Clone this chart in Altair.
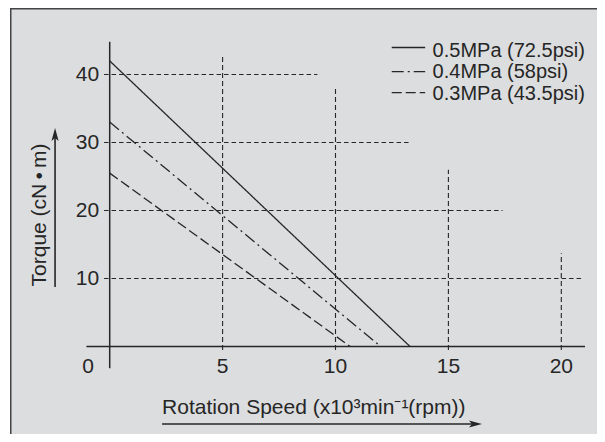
import altair as alt
import pandas as pd

# ---------------- data ----------------
series = ["0.5MPa (72.5psi)", "0.4MPa (58psi)", "0.3MPa (43.5psi)"]
stall_torque = [42.0, 33.0, 25.5]        # torque at 0 rpm (cN·m)
max_speed = [13.3, 12.0, 10.65]          # speed at 0 torque (x10^3 rpm)

x_ticks = [5, 10, 15, 20]
y_ticks = [10, 20, 30, 40]
origin_label = "0"
hgrid_end = [21.0, 17.4, 13.3, 9.2]      # right end of horizontal grid at each y tick
vgrid_top = [42.9, 38.1, 26.0, 13.7]     # top end of vertical grid at each x tick

x_title = "Rotation Speed (x10³min⁻¹(rpm))"
y_title = "Torque (cN\u2009•\u2009m)"

# ---------------- style / layout ----------------
INK = "#262626"
BG = "#dcdddf"
FONT = "Liberation Sans"
FS = 21
W, H = 587, 426
PX_X = 22.58     # px per x unit
PX_Y = 6.8       # px per y unit
X0_PX = 99.7     # view px of x = 0
Y0_PX = 338.5    # view px of y = 0

xs = alt.Scale(domain=[-X0_PX / PX_X, (W - X0_PX) / PX_X], nice=False, zero=False)
ys = alt.Scale(domain=[-(H - Y0_PX) / PX_Y, Y0_PX / PX_Y], nice=False, zero=False)


def X(f):
    return alt.X(f"{f}:Q", scale=xs, axis=None)


def Y(f):
    return alt.Y(f"{f}:Q", scale=ys, axis=None)


dash_scale = alt.Scale(domain=series, range=[[1, 0], [12, 4, 2, 4], [10, 4]])

# series lines
rows = []
for s, t, m in zip(series, stall_torque, max_speed):
    rows.append({"series": s, "x": 0.0, "y": t})
    rows.append({"series": s, "x": m, "y": 0.0})
lines_df = pd.DataFrame(rows)

lines = alt.Chart(lines_df).mark_line(color=INK, strokeWidth=1.3).encode(
    x=X("x"), y=Y("y"),
    strokeDash=alt.StrokeDash("series:N", scale=dash_scale, legend=None),
    detail="series:N",
)

# grid
hgrid_df = pd.DataFrame({"y": y_ticks, "x0": [-0.25] * 4, "x1": hgrid_end})
hgrid = alt.Chart(hgrid_df).mark_rule(color=INK, strokeWidth=1.1, strokeDash=[4.5, 3]).encode(
    x=X("x0"), x2="x1", y=Y("y"))

vgrid_df = pd.DataFrame({"x": x_ticks, "y0": [-0.5] * 4, "y1": vgrid_top})
vgrid = alt.Chart(vgrid_df).mark_rule(color=INK, strokeWidth=1.1, strokeDash=[5, 3]).encode(
    x=X("x"), y=Y("y0"), y2="y1")

# axis lines
axes_df = pd.DataFrame({"x0": [-1.03, 0.0], "x1": [21.05, 0.0],
                        "y0": [0.0, -3.2], "y1": [0.0, 44.8]})
axes = alt.Chart(axes_df).mark_rule(color=INK, strokeWidth=1.5).encode(
    x=X("x0"), x2="x1", y=Y("y0"), y2="y1")

# tick labels
xl_df = pd.DataFrame({"x": [-0.96] + x_ticks, "y": [-2.97] * 5,
                      "t": [origin_label] + [str(v) for v in x_ticks]})
xlabels = alt.Chart(xl_df).mark_text(font=FONT, fontSize=FS, color=INK, align="center",
                                     baseline="middle").encode(x=X("x"), y=Y("y"), text="t:N")

yl_df = pd.DataFrame({"x": [-0.47] * 4, "y": y_ticks, "t": [str(v) for v in y_ticks]})
ylabels = alt.Chart(yl_df).mark_text(font=FONT, fontSize=FS, color=INK, align="right",
                                     baseline="middle").encode(x=X("x"), y=Y("y"), text="t:N")

# legend
leg_df = pd.DataFrame({"series": series, "x0": [12.49] * 3, "x1": [13.97] * 3,
                       "ly": [43.97, 40.41, 37.32], "tx": [14.30] * 3,
                       "ty": [43.45, 40.32, 37.20]})
leg_lines = alt.Chart(leg_df).mark_rule(color=INK, strokeWidth=1.3).encode(
    x=X("x0"), x2="x1", y=Y("ly"),
    strokeDash=alt.StrokeDash("series:N", scale=dash_scale, legend=None))
leg_text = alt.Chart(leg_df).mark_text(font=FONT, fontSize=20, color=INK, align="left",
                                       baseline="middle").encode(
    x=X("tx"), y=Y("ty"), text="series:N")

# axis titles with arrows
xt_df = pd.DataFrame({"x": [2.32], "y": [-9.09], "t": [x_title]})
xtitle = alt.Chart(xt_df).mark_text(font=FONT, fontSize=FS, color=INK, align="left",
                                    baseline="middle").encode(x=X("x"), y=Y("y"), text="t:N")
yt_df = pd.DataFrame({"x": [-3.09], "y": [19.34], "t": [y_title]})
ytitle = alt.Chart(yt_df).mark_text(font=FONT, fontSize=FS, color=INK, align="center",
                                    baseline="middle", angle=270).encode(
    x=X("x"), y=Y("y"), text="t:N")

xarrow_df = pd.DataFrame({"x0": [2.32], "x1": [16.3], "y": [-11.4]})
xarrow = alt.Chart(xarrow_df).mark_rule(color=INK, strokeWidth=1.6).encode(
    x=X("x0"), x2="x1", y=Y("y"))
xhead = alt.Chart(pd.DataFrame({"x": [16.2], "y": [-11.4]})).mark_point(
    shape="M-1,-0.55 L1,0 L-1,0.55 L-0.55,0 Z", filled=True, color=INK, opacity=1, size=170
).encode(x=X("x"), y=Y("y"))

yarrow_df = pd.DataFrame({"x": [-2.42], "y0": [8.75], "y1": [31.4]})
yarrow = alt.Chart(yarrow_df).mark_rule(color=INK, strokeWidth=1.6).encode(
    x=X("x"), y=Y("y0"), y2="y1")
yhead = alt.Chart(pd.DataFrame({"x": [-2.42], "y": [31.18]})).mark_point(
    shape="M-0.55,1 L0,-1 L0.55,1 L0,0.55 Z", filled=True, color=INK, opacity=1, size=170
).encode(x=X("x"), y=Y("y"))

# frame (top and left edges only, as in the cropped reference)
frame_top = alt.Chart(pd.DataFrame({"a": [0]})).mark_rule(color="#444444", strokeWidth=1.5).encode(
    x=alt.value(0), x2=alt.value(W), y=alt.value(0.75))
frame_left = alt.Chart(pd.DataFrame({"a": [0]})).mark_rule(color="#444444", strokeWidth=1.5).encode(
    x=alt.value(0.75), y=alt.value(0), y2=alt.value(H))

chart = alt.layer(
    hgrid, vgrid, axes, lines, xlabels, ylabels, leg_lines, leg_text,
    xtitle, ytitle, xarrow, xhead, yarrow, yhead, frame_top, frame_left,
).properties(
    width=W, height=H,
    padding={"left": 2, "top": 0, "right": 0, "bottom": 0},
    autosize=alt.AutoSizeParams(type="none"),
    background="white",
).configure_view(fill=BG, stroke="transparent")

chart.save("out.html", embed_options={"renderer": "svg", "actions": False})
